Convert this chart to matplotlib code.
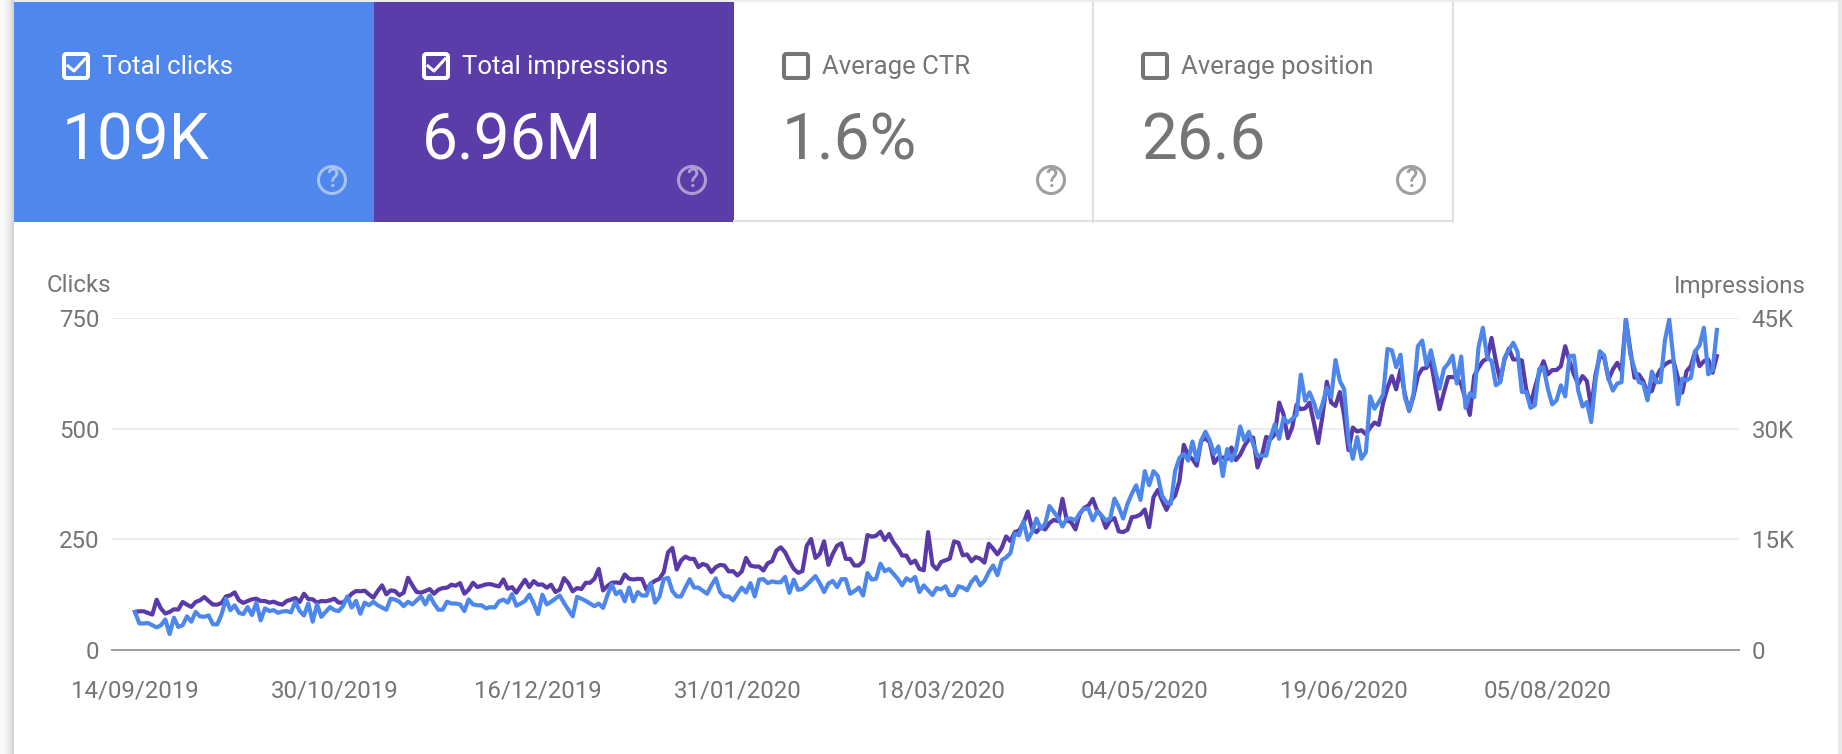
import pandas as pd
import matplotlib
matplotlib.use("Agg")
import matplotlib.pyplot as plt
from matplotlib.patches import Rectangle, FancyBboxPatch, Circle

plt.rcParams['font.family'] = ['Roboto', 'DejaVu Sans']

# values, one per day
clicks = [
    86, 60, 60, 61, 56, 51, 56, 69, 36, 73, 52, 56, 76, 64, 86, 76, 75, 78, 58, 58,
    81, 116, 90, 101, 84, 81, 97, 79, 107, 67, 94, 88, 90, 84, 87, 88, 85, 109, 88, 78,
    105, 64, 103, 75, 86, 97, 90, 88, 99, 121, 96, 111, 82, 107, 101, 109, 101, 96, 91, 116,
    114, 109, 99, 109, 103, 112, 121, 103, 123, 105, 91, 91, 109, 105, 105, 103, 88, 114, 103, 101,
    101, 94, 97, 96, 110, 114, 107, 126, 100, 105, 111, 125, 105, 81, 125, 103, 109, 116, 123,
    106, 91, 76, 120, 116, 111, 105, 99, 105, 95, 123, 148, 126, 133, 110, 141, 110, 131, 123, 123,
    151, 107, 120, 160, 163, 133, 121, 121, 141, 160, 141, 141, 134, 127, 146, 162, 131, 121, 121, 112,
    127, 141, 130, 151, 121, 159, 160, 151, 155, 153, 153, 165, 129, 159, 136, 138, 147, 157, 167, 151,
    131, 150, 156, 142, 160, 160, 127, 133, 141, 123, 174, 159, 161, 195, 178, 183, 172, 161, 146, 162,
    156, 165, 131,
    146, 135, 124, 140, 137, 144, 124, 124, 144, 141, 135, 154, 165, 146, 156, 176, 191, 169, 203, 209,
    219, 263, 259, 291, 249, 267, 297, 274, 285, 325, 312, 299, 279, 297, 297, 293, 309, 319, 319, 293,
    313, 304, 293, 297, 342, 323, 297, 330, 353, 372, 339, 404, 372, 404, 393, 348, 334, 330, 405, 434,
    443, 428, 471, 428, 473, 493, 473, 443, 460, 393, 454, 428, 450, 505, 473, 493, 465, 439, 439, 439,
    480, 510, 477, 524, 514, 522, 531, 622, 563, 582, 559, 525, 556, 592, 571, 655, 608, 589, 473,
    432, 481, 432, 447, 573, 545, 560, 577, 680, 677, 639, 667, 571, 541, 579, 686, 699, 643, 677, 632,
    590, 635, 647, 665, 602, 663, 547, 580, 571, 684, 728, 660, 653, 598, 605, 660, 677, 694, 674, 583,
    583, 547, 553, 635, 639, 590, 555, 564, 598, 573, 664, 665, 586, 550, 560, 515, 609, 675, 665, 613,
    586, 602, 605, 748, 669, 635, 605, 602, 564, 629, 605, 605, 699, 747, 654, 555, 613, 609, 615, 675,
    688, 728, 623, 632, 723,
]
impressions = [
    5160, 5250, 5250, 5030, 4800, 6820, 5610, 4940, 5160, 5520, 5480, 6510, 6150, 5840, 6510, 6730,
    7180, 6640, 6150, 6150, 6380, 7270, 7410, 7810, 6730, 6380, 6640, 6870, 6960, 6640, 6640, 6420,
    6550, 6290, 6150, 6640, 6820, 7050, 6510, 7630, 6910, 6870, 6420, 6640, 6600, 6730, 6960, 6420,
    6420, 6960, 7630, 7990, 7950, 8040, 7540, 7090, 7990, 8760, 7540, 8080, 7990, 7410, 7770, 9790,
    8760, 7860, 7770, 7990, 8260, 7630, 8170, 8400, 8440, 8850, 8710, 9070, 7630, 8170, 9110, 8530,
    8710, 8890, 8940, 8760, 8620, 9560, 8310, 8530, 7770, 8670, 9520, 8530, 9340, 8850, 8890,
    8440, 8850, 7860, 8170, 9740, 9070, 7950, 8400, 8260, 9110, 9110, 9650, 11000, 8080, 8670, 9110,
    9160, 9070, 10240, 9650, 9560, 9650, 9610, 8170, 8980, 9380, 9650, 10550, 13250, 13830, 10910, 12120,
    12660, 12350, 12350, 11230, 11670, 11450, 10550, 11230, 11540, 11450, 10640, 10690, 10100, 10640, 12480, 11450,
    11310, 11310, 10780, 11760, 12030, 13470, 13920, 13250, 12030, 11000, 10460, 10690, 14140, 15040, 12480, 13020,
    14730, 11540, 13020, 14140, 14460, 12350, 12350, 11450, 11450, 12030, 15580, 15360, 15490, 16030, 14910, 15720,
    14590, 13830, 12800, 12800, 11760, 12120, 11000,
    10800, 15980, 11570, 10940, 11930, 12150, 12380, 14720, 14540, 12830, 12960, 12020, 12600, 12380, 11840, 14400,
    13730, 12960, 13860, 15390, 14760, 15980, 16200, 17190, 18770, 16430, 15980, 16650, 16340, 17190, 17640, 17460,
    20480, 17550, 17330, 16340, 18450, 19260, 19580, 20480, 18900, 18230, 16560, 17550, 17870, 16070, 15980, 16290,
    18000, 18090, 18360, 19040, 16650, 20700, 21690, 20250, 18990, 20250, 20930, 22950, 27810, 26330, 25880, 24980,
    28350, 28710, 28130, 25340, 26100, 26100, 25880, 27450, 25740, 26460, 27680, 28580, 28800, 24750, 26330, 28890,
    28580, 29250, 33530, 31950, 28710, 30150, 33210, 32630, 32760, 33530, 30830, 28040, 31730, 36360, 33530, 33080,
    34970, 31730, 27090,
    30150, 29610, 29790, 29250, 30150, 30830, 30510, 33530, 35550, 37130, 35330, 38030, 34650, 32400, 34430, 37130,
    38120, 38250, 39150, 35780, 32630, 34880, 36990, 36990, 36900, 36000, 33980, 31860, 37130, 38250, 39150, 39510,
    42300, 39150, 36450, 39380, 40860, 39380, 39380, 39240, 35330, 33300, 35550, 37580, 39150, 37350, 37940, 37940,
    38480, 41180, 39150, 37350, 36000, 37130, 36450, 32850, 37350, 39830, 39600, 36680, 38030, 38930, 37800, 44780,
    40730, 36900, 37350, 36450, 34880, 35100, 36990, 38030, 38700, 39060, 39150, 36900, 34880, 37800, 38480, 40500,
    38480, 39150, 39380, 37580, 39830,
]

dates = pd.date_range('2019-09-14', periods=len(clicks))
date_labels = ['14/09/2019', '30/10/2019', '16/12/2019', '31/01/2020',
               '18/03/2020', '04/05/2020', '19/06/2020', '05/08/2020']
click_ticks = [0, 250, 500, 750]
click_labels = ['0', '250', '500', '750']
impression_ticks = [0, 15000, 30000, 45000]
impression_labels = ['0', '15K', '30K', '45K']

card_names = ['Total clicks', 'Total impressions', 'Average CTR', 'Average position']
card_values = ['109K', '6.96M', '1.6%', '26.6']

BLUE = '#4d87ec'
PURPLE = '#5a3aa8'
GREY = '#757575'
W, H = 1842, 754

fig = plt.figure(figsize=(W / 100, H / 100), dpi=100, facecolor='white')

# page furniture, in pixels
bg = fig.add_axes([0, 0, 1, 1])
bg.set_xlim(0, W)
bg.set_ylim(H, 0)
bg.axis('off')
bg.add_patch(Rectangle((0, 0), W, 2, fc='#eeeeee', ec='none'))
for i, c in enumerate(['#fbfbfb', '#fafafa', '#f9f9f9', '#f8f8f8', '#f6f6f6', '#f4f4f4', '#f2f2f2',
                       '#f0f0f0', '#ececec', '#e8e8e8', '#e4e4e4', '#dedede', '#d8d8d8', '#d0d0d0']):
    bg.add_patch(Rectangle((i, 0), 1, H, fc=c, ec='none'))
bg.add_patch(Rectangle((1838, 0), 4, H, fc='#e9e9e9', ec='none'))

card_left = [14, 374, 734, 1093]
card_right = [374, 734, 1093, 1453]
card_fill = ['#5087ec', '#5a3da8', 'white', 'white']

for i in range(4):
    left, right = card_left[i], card_right[i]
    on = i < 2
    fg = 'white' if on else GREY
    if on:
        bg.add_patch(Rectangle((left, 2), right - left, 220, fc=card_fill[i], ec='none'))
    else:
        bg.plot([left, right], [221, 221], color='#e0e0e0', lw=1.5)
        bg.plot([right, right], [2, 222], color='#e0e0e0', lw=1.5)

    bx = left + 48
    bg.add_patch(FancyBboxPatch((bx + 2, 54), 24, 24, boxstyle='round,pad=0,rounding_size=2.5',
                                fc='none', ec=fg, lw=2.9))
    if on:
        bg.plot([bx + 6, bx + 12, bx + 23], [66, 71, 59], color='white', lw=2.2)
    bg.text(left + 88, 67, card_names[i], color=fg, fontsize=18.5, va='center', ha='left')
    bg.text(left + 48, 142, card_values[i], color=fg, fontsize=46, va='center', ha='left')

    cx = right - 42
    icon = (1, 1, 1, 0.5) if on else '#9e9e9e'
    bg.add_patch(Circle((cx, 180), 13.5, fc='none', ec=icon, lw=2.2))
    bg.text(cx, 180, '?', color=icon, fontsize=18, ha='center', va='center', fontweight='medium')

bg.text(47, 285, 'Clicks', color=GREY, fontsize=17.3, ha='left', va='center')
bg.text(1806, 286, 'Impressions', color=GREY, fontsize=17.3, ha='right', va='center')

# chart, both axes share the same gridlines
left_px, right_px, top_px, bottom_px = 112, 1739, 318, 650
ax = fig.add_axes([left_px / W, 1 - bottom_px / H, (right_px - left_px) / W, (bottom_px - top_px) / H])
ax2 = ax.twinx()

ax2.plot(dates, impressions, color=PURPLE, lw=3, solid_joinstyle='round')
ax.plot(dates, clicks, color=BLUE, lw=3, solid_joinstyle='round')

ax.set_zorder(ax2.get_zorder() + 1)
ax.patch.set_visible(False)
ax2.patch.set_visible(False)

ax.set_ylim(0, 750)
ax2.set_ylim(0, 45000)
ax.set_yticks(click_ticks)
ax.set_yticklabels(click_labels)
ax2.set_yticks(impression_ticks)
ax2.set_yticklabels(impression_labels)
ax2.grid(axis='y', color='#ececec', lw=1.3)

ax.set_xlim(dates[0] - pd.Timedelta(days=5.3), dates[-1] + pd.Timedelta(days=5.1))
ax.set_xticks(pd.to_datetime(date_labels, format='%d/%m/%Y'))
ax.set_xticklabels(date_labels)

for a in (ax, ax2):
    for s in a.spines.values():
        s.set_visible(False)
    a.tick_params(length=0, labelcolor=GREY, labelsize=17.3)
ax.spines['bottom'].set_visible(True)
ax.spines['bottom'].set_color('#9e9e9e')
ax.spines['bottom'].set_linewidth(1.4)
ax.tick_params(axis='y', pad=9)
ax2.tick_params(axis='y', pad=9)
ax.tick_params(axis='x', pad=21)

fig.savefig('out.png', dpi=100)
